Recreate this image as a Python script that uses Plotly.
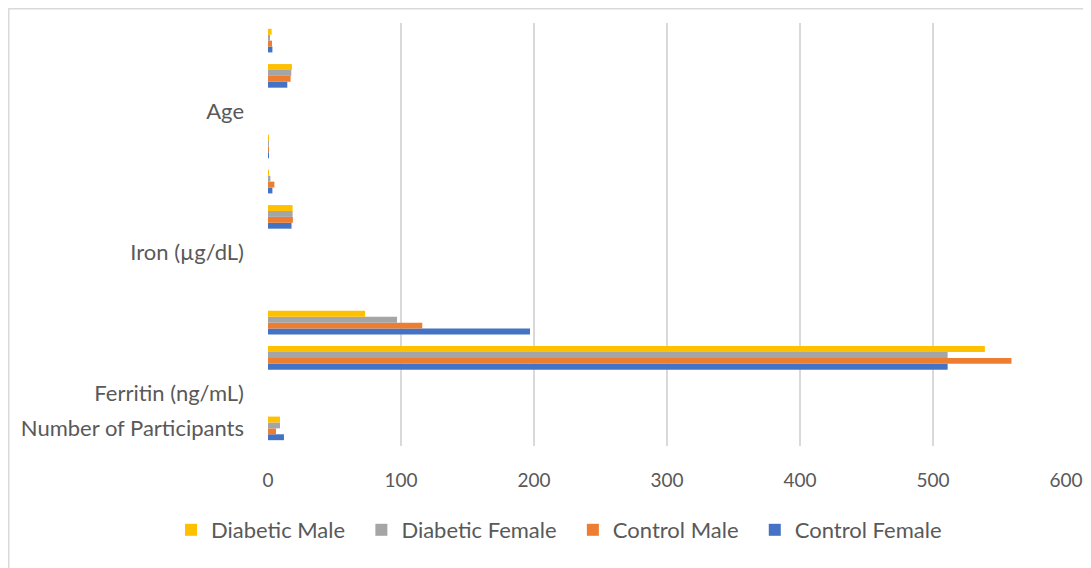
import plotly.graph_objects as go

categories = ["Number of Participants", "Ferritin (ng/mL)", "", "", "", "Iron (µg/dL)",
              "", "", "", "Age", "", ""]
series_names = ["Control Female", "Control Male", "Diabetic Female", "Diabetic Male"]
control_female = [12, None, 511, 197, None, None, 17.7, 3.3, 0.2, None, 14.5, 3.3]
control_male = [6, None, 559, 116, None, None, 18.7, 4.8, 0.3, None, 17, 3.0]
diabetic_female = [9, None, 511, 97, None, None, 18.5, 1.8, 0.3, None, 17.5, 1.3]
diabetic_male = [9, None, 539, 73, None, None, 18.5, 0.2, 0.4, None, 18, 2.7]
colors = ["#4472C4", "#ED7D31", "#A5A5A5", "#FFC000"]
x_ticks = [0, 100, 200, 300, 400, 500, 600]

positions = list(range(len(categories)))
fig = go.Figure()
for name, vals, col in zip(series_names,
                           [control_female, control_male, diabetic_female, diabetic_male],
                           colors):
    fig.add_trace(go.Bar(y=positions, x=vals, name=name + "\u00a0\u00a0", orientation="h",
                         marker=dict(color=col, line=dict(width=0))))

W, H = 1083, 560
L, R, T, B = 260, 25, 15, 122
plot_w, plot_h = W - L - R, H - T - B

font_family = "Lato"
fig.update_layout(
    width=W, height=H,
    barmode="group", bargap=0.33, bargroupgap=0,
    plot_bgcolor="white", paper_bgcolor="white",
    margin=dict(l=L, r=R, t=T, b=B),
    font=dict(family=font_family, color="#595959", size=21),
    xaxis=dict(range=[0, 600], tickvals=x_ticks, showgrid=True, gridcolor="#D9D9D9",
               gridwidth=1.5, zeroline=False, showline=False, ticks="", automargin=False,
               tickfont=dict(size=19, color="#595959"), ticklabelstandoff=21),
    yaxis=dict(range=[-0.5, len(categories) - 0.5], tickvals=positions, ticktext=categories,
               showgrid=False, zeroline=False, showline=False, ticks="", automargin=False,
               tickfont=dict(size=22, color="#595959"), ticklabelstandoff=23),
    legend=dict(orientation="h", traceorder="reversed", xref="container", yref="container",
                x=163 / W, xanchor="left", y=1 - 522 / H, yanchor="middle",
                font=dict(size=22, color="#595959"), itemwidth=30),
    shapes=[dict(type="rect", xref="paper", yref="paper",
                 x0=(0.75 - L) / plot_w, x1=1.2,
                 y0=-0.4, y1=(plot_h + T - 0.75) / plot_h,
                 line=dict(color="#D9D9D9", width=1.5),
                 fillcolor="rgba(0,0,0,0)", layer="below")],
)
fig.write_html("out.html")
